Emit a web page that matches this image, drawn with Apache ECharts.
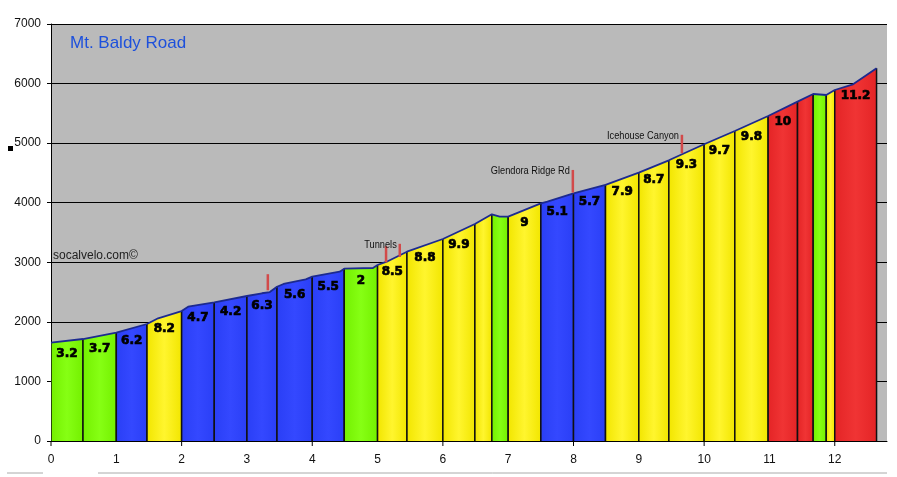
<!DOCTYPE html>
<html>
<head>
<meta charset="utf-8">
<script src="https://cdn.jsdelivr.net/npm/echarts@6/dist/echarts.min.js"></script>
<style>
html,body{margin:0;padding:0;background:#ffffff;}
#chart{width:897px;height:477px;}
</style>
</head>
<body>
<div id="chart"></div>
<script>
// Elevation profile (miles, feet)
const distance = [0, 0.49, 1.0, 1.47, 1.64, 2.0, 2.1, 2.5, 3.0, 3.23, 3.35, 3.46, 3.56, 3.9, 4.0, 4.42, 4.49, 4.93, 5.0, 5.14, 5.45, 6.0, 6.49, 6.75, 6.87, 7.0, 7.5, 7.6, 8.0, 8.49, 9.0, 9.46, 10.0, 10.47, 10.98, 11.43, 11.67, 11.87, 12.0, 12.28, 12.64];
const elevation = [1650, 1712, 1818, 1964, 2060, 2182, 2255, 2328, 2434, 2480, 2500, 2590, 2636, 2714, 2758, 2843, 2893, 2904, 2954, 3010, 3178, 3391, 3643, 3805, 3766, 3766, 3990, 4018, 4158, 4300, 4504, 4712, 4981, 5204, 5456, 5696, 5825, 5808, 5892, 5988, 6257];

// Grade segments
const segStart = [0, 0.49, 1.0, 1.47, 2.0, 2.5, 3.0, 3.46, 4.0, 4.49, 5.0, 5.45, 6.0, 6.49, 6.75, 7.0, 7.5, 8.0, 8.49, 9.0, 9.46, 10.0, 10.47, 10.98, 11.43, 11.67, 11.87, 12.0];
const segEnd   = [0.49, 1.0, 1.47, 2.0, 2.5, 3.0, 3.46, 4.0, 4.49, 5.0, 5.45, 6.0, 6.49, 6.75, 7.0, 7.5, 8.0, 8.49, 9.0, 9.46, 10.0, 10.47, 10.98, 11.43, 11.67, 11.87, 12.0, 12.64];
const segGrade = ['3.2', '3.7', '6.2', '8.2', '4.7', '4.2', '6.3', '5.6', '5.5', '2', '8.5', '8.8', '9.9', '', '', '9', '5.1', '5.7', '7.9', '8.7', '9.3', '9.7', '9.8', '10', '', '', '', '11.2'];
const segClass = ['G', 'G', 'B', 'Y', 'B', 'B', 'B', 'B', 'B', 'G', 'Y', 'Y', 'Y', 'Y', 'G', 'Y', 'B', 'B', 'Y', 'Y', 'Y', 'Y', 'Y', 'R', 'R', 'G', 'Y', 'R'];

// Landmark markers
const markerMile = [3.32, 5.13, 5.34, 7.99, 9.66];
const markerBase = [2530, 3000, 3090, 4170, 4830];
const markerTop  = [2800, 3270, 3310, 4550, 5140];
const markerText = ['', '', 'Tunnels', 'Glendora Ridge Rd', 'Icehouse Canyon'];

// Axis ticks
const yTicks = [0, 1000, 2000, 3000, 4000, 5000, 6000, 7000];
const xTickMarks = [0, 2, 4, 6, 8, 10, 12];
const xMax = 12.8;

const palette = {
  G: ['#74f000', '#86ff14'],
  B: ['#2a3ff6', '#3448ff'],
  Y: ['#f2e600', '#fff52e'],
  R: ['#e42426', '#f03434']
};

function elevAt(m) {
  for (let k = 1; k < distance.length; k++) {
    if (m <= distance[k]) {
      const t = (m - distance[k - 1]) / (distance[k] - distance[k - 1]);
      return elevation[k - 1] + t * (elevation[k] - elevation[k - 1]);
    }
  }
  return elevation[elevation.length - 1];
}

const chart = echarts.init(document.getElementById('chart'), null, {renderer: 'canvas'});

function renderSeg(params, api) {
  const s = api.value(0), e = api.value(1), i = api.value(2);
  const pts = [api.coord([s, 0])];
  for (let k = 0; k < distance.length; k++) {
    if (distance[k] >= s - 1e-9 && distance[k] <= e + 1e-9) pts.push(api.coord([distance[k], elevation[k]]));
  }
  pts.push(api.coord([e, 0]));
  const c = palette[segClass[i]];
  const fill = new echarts.graphic.LinearGradient(0, 0, 1, 0, [
    {offset: 0, color: c[0]}, {offset: 0.5, color: c[1]}, {offset: 1, color: c[0]}
  ]);
  const b0 = api.coord([s, 0]), t0 = api.coord([s, elevAt(s)]);
  const b1 = api.coord([e, 0]), t1 = api.coord([e, elevAt(e)]);
  const children = [
    {type: 'polygon', shape: {points: pts}, style: {fill: fill, stroke: null}},
    {type: 'line', shape: {x1: b0[0], y1: b0[1], x2: t0[0], y2: t0[1]}, style: {stroke: '#111', lineWidth: 1.5}},
    {type: 'line', shape: {x1: b1[0], y1: b1[1], x2: t1[0], y2: t1[1]}, style: {stroke: '#111', lineWidth: 1.5}}
  ];
  if (segGrade[i]) {
    const mid = (s + e) / 2;
    const p = api.coord([mid, elevAt(mid)]);
    children.push({
      type: 'text',
      style: {
        x: p[0], y: p[1] + 7, text: segGrade[i],
        textAlign: 'center', textVerticalAlign: 'top',
        fill: '#000', stroke: '#000', lineWidth: 0.7,
        font: 'bold 12px "DejaVu Sans"'
      }
    });
  }
  return {type: 'group', children: children};
}

function renderMarker(params, api) {
  const m = api.value(0), b = api.value(1), t = api.value(2), i = api.value(3);
  const pb = api.coord([m, b]), pt = api.coord([m, t]);
  const children = [
    {type: 'line', shape: {x1: pb[0], y1: pb[1], x2: pt[0], y2: pt[1]}, style: {stroke: '#d24a4a', lineWidth: 2.5}}
  ];
  if (markerText[i]) {
    children.push({
      type: 'text',
      x: pt[0] - 3, y: pt[1] + 1, scaleX: 0.84, scaleY: 1,
      style: {
        x: 0, y: 0, text: markerText[i],
        textAlign: 'right', textVerticalAlign: 'middle',
        fill: '#111', font: '11px "Liberation Sans"'
      }
    });
  }
  return {type: 'group', children: children};
}

function renderTick(params, api) {
  const p = api.coord([api.value(0), 0]);
  return {type: 'line', shape: {x1: p[0], y1: p[1], x2: p[0], y2: p[1] + 5}, style: {stroke: '#000', lineWidth: 1}};
}

const option = {
  animation: false,
  backgroundColor: '#ffffff',
  grid: {
    left: 51, right: 10, top: 24, bottom: 36,
    show: true, backgroundColor: '#bababa', borderWidth: 0
  },
  title: {
    text: 'Mt. Baldy Road', left: 65, top: 30,
    textStyle: {color: '#1d50dc', fontSize: 17, fontWeight: 'normal', fontFamily: 'Liberation Sans'}
  },
  xAxis: {
    type: 'value', min: 0, max: xMax, interval: 1,
    axisLine: {show: true, lineStyle: {color: '#000', width: 1}},
    axisTick: {show: false},
    splitLine: {show: false},
    axisLabel: {
      color: '#111', fontSize: 12, fontFamily: 'Liberation Sans', margin: 13,
      showMaxLabel: false,
      formatter: v => (Number.isInteger(v) ? String(v) : '')
    }
  },
  yAxis: {
    type: 'value', min: yTicks[0], max: yTicks[yTicks.length - 1], interval: 1000,
    axisLine: {show: true, lineStyle: {color: '#000', width: 1}},
    axisTick: {show: true, length: 4, lineStyle: {color: '#000'}},
    splitLine: {show: true, lineStyle: {color: '#000', width: 1}},
    axisLabel: {
      color: '#111', fontSize: 12, fontFamily: 'Liberation Sans', margin: 10,
      formatter: v => String(v)
    }
  },
  graphic: [
    {type: 'text', left: 53, top: 250, style: {text: 'socalvelo.com©', fill: '#222', font: '12px "Liberation Sans"'}},
    {type: 'rect', shape: {x: 8, y: 146, width: 5, height: 5}, style: {fill: '#000'}},
    {type: 'line', shape: {x1: 7, y1: 473, x2: 43, y2: 473}, style: {stroke: '#aaa', lineWidth: 1}},
    {type: 'line', shape: {x1: 98, y1: 473, x2: 887, y2: 473}, style: {stroke: '#aaa', lineWidth: 1}}
  ],
  series: [
    {
      type: 'custom', renderItem: renderSeg, clip: true, z: 2,
      encode: {x: [0, 1]},
      data: segStart.map((s, i) => [s, segEnd[i], i])
    },
    {
      type: 'line', z: 3, symbol: 'none', smooth: false,
      lineStyle: {color: '#1c2a90', width: 1.8},
      data: distance.map((d, i) => [d, elevation[i]])
    },
    {
      type: 'custom', renderItem: renderMarker, z: 4,
      encode: {x: 0, y: [1, 2]},
      data: markerMile.map((m, i) => [m, markerBase[i], markerTop[i], i])
    },
    {
      type: 'custom', renderItem: renderTick, z: 5, clip: false,
      encode: {x: 0},
      data: xTickMarks.map(v => [v])
    }
  ]
};
chart.setOption(option);
</script>
</body>
</html>
